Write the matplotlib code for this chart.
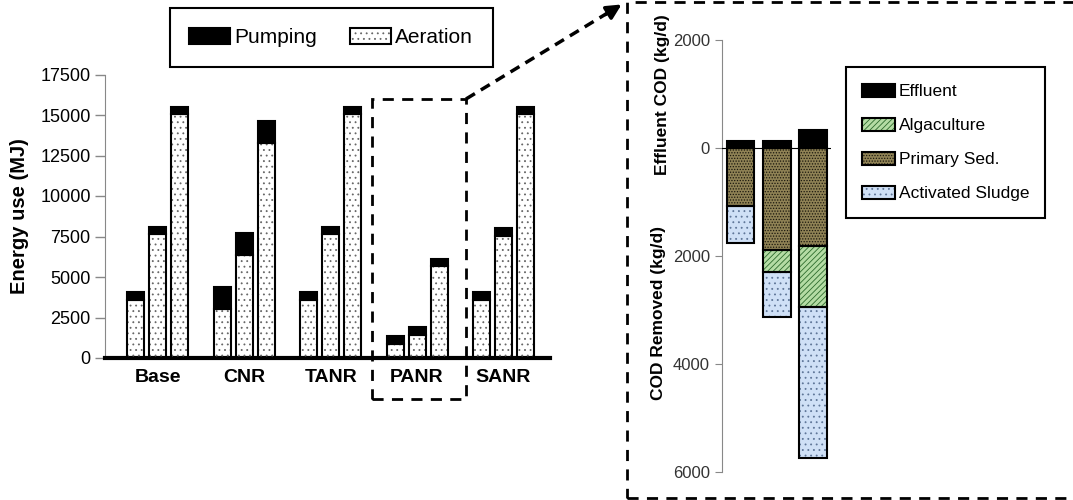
import numpy as np
import matplotlib
matplotlib.use("Agg")
import matplotlib.pyplot as plt
from matplotlib.patches import Rectangle, FancyArrowPatch, Patch
from matplotlib.lines import Line2D

plt.rcParams['font.family'] = ['Liberation Sans', 'DejaVu Sans']
plt.rcParams['hatch.linewidth'] = 0.6

# %% data
groups = ["Base", "CNR", "TANR", "PANR", "SANR"]
aeration = [
    [3600, 3000, 3600, 870, 3600],
    [7650, 6350, 7650, 1450, 7550],
    [15050, 13250, 15050, 5650, 15050],
]
pumping = [
    [450, 1400, 450, 480, 450],
    [450, 1350, 450, 450, 450],
    [450, 1350, 450, 450, 450],
]

effluent = [135, 135, 330]
primary_sed = [1070, 1890, 1820]
algaculture = [0, 400, 1130]
act_sludge = [690, 830, 2790]

# %% styles
styles = {
    "Pumping": dict(fc="black", hatch=None, hc="black"),
    "Aeration": dict(fc="white", hatch="...", hc="#666666"),
    "Effluent": dict(fc="black", hatch=None, hc="black"),
    "Algaculture": dict(fc="#b4dca4", hatch="//////", hc="#2d6b2d"),
    "Primary Sed.": dict(fc="#8f8255", hatch="......", hc="#1a170d"),
    "Activated Sludge": dict(fc="#cfe0f6", hatch="...", hc="#5f7698"),
}


def hbar(ax, x, h, bottom, width, name, lw=1.5):
    st = styles[name]
    ax.bar(x, h, width, bottom=bottom, color=st["fc"], linewidth=0, zorder=2)
    if st["hatch"]:
        ax.bar(x, h, width, bottom=bottom, facecolor="none", edgecolor=st["hc"],
               hatch=st["hatch"], linewidth=0, zorder=3)
    ax.bar(x, h, width, bottom=bottom, facecolor="none", edgecolor="black",
           linewidth=lw, zorder=4)


def handle(name):
    st = styles[name]
    parts = [Patch(facecolor=st["fc"], linewidth=0)]
    if st["hatch"]:
        parts.append(Patch(facecolor="none", edgecolor=st["hc"], hatch=st["hatch"], linewidth=0))
    parts.append(Patch(facecolor="none", edgecolor="black", linewidth=1.5))
    return tuple(parts)


fig = plt.figure(figsize=(10.73, 5), dpi=100)

# %% left panel
ax = fig.add_axes([0.0975, 0.284, 0.415, 0.567])
xg = np.arange(len(groups))
offs = [-0.255, 0.0, 0.255]
bw = 0.197
for k in range(3):
    a = np.array(aeration[k])
    p = np.array(pumping[k])
    hbar(ax, xg + offs[k], a, 0, bw, "Aeration")
    hbar(ax, xg + offs[k], p, a, bw, "Pumping")

ax.set_xlim(-0.617, 4.538)
ax.set_ylim(0, 17500)
ax.set_yticks(np.arange(0, 17501, 2500))
ax.set_xticks(xg)
ax.set_xticklabels(groups, fontsize=14, fontweight="bold")
ax.tick_params(axis="x", length=0, pad=8)
ax.tick_params(axis="y", labelsize=13, color="#888888", length=7, width=1, pad=3)
for s in ["top", "right"]:
    ax.spines[s].set_visible(False)
ax.spines["left"].set_color("#888888")
ax.spines["bottom"].set_linewidth(3)
ax.set_ylabel("Energy use (MJ)", fontsize=14.5, fontweight="bold", labelpad=8)

ax.legend([handle("Pumping"), handle("Aeration")], ["Pumping", "Aeration"],
          loc="center", bbox_to_anchor=(0.3087, 0.9244), bbox_transform=fig.transFigure,
          ncol=2, fontsize=15, frameon=True, fancybox=False, edgecolor="black",
          framealpha=1, handlelength=1.95, handleheight=0.8, borderpad=0.95,
          columnspacing=1.6, handletextpad=0.2).get_frame().set_linewidth(1.5)

# dashed box round PANR
ip = groups.index("PANR")
ax.add_patch(Rectangle((ip - 0.522, -2530), 1.088, 18490, fill=False, ls=(0, (4, 3)),
                       lw=2, ec="black", clip_on=False, zorder=5))

# %% right panel
ax2 = fig.add_axes([0.6726, 0.0554, 0.1019, 0.8646])
xr = np.arange(3)
rw = 0.77
eff = np.array(effluent)
ps = np.array(primary_sed)
al = np.array(algaculture)
asl = np.array(act_sludge)
hbar(ax2, xr, eff, 0, rw, "Effluent")
hbar(ax2, xr, -ps, 0, rw, "Primary Sed.")
hbar(ax2, xr[al > 0], -al[al > 0], -ps[al > 0], rw, "Algaculture")
hbar(ax2, xr, -asl, -(ps + al), rw, "Activated Sludge")
ax2.axhline(0, color="black", lw=0.8, zorder=5)

ax2.set_xlim(-0.52, 2.5)
ax2.set_ylim(-6000, 2000)
yt = [2000, 0, -2000, -4000, -6000]
ax2.set_yticks(yt)
ax2.set_yticklabels([str(abs(v)) for v in yt], fontsize=12, color="#333333")
ax2.tick_params(axis="y", color="#888888", length=5)
ax2.set_xticks([])
for s in ["top", "right", "bottom"]:
    ax2.spines[s].set_visible(False)
ax2.spines["left"].set_color("#888888")

fig.text(0.617, 0.81, "Effluent COD (kg/d)", rotation=90, ha="center", va="center",
         fontsize=12.5, fontweight="bold")
fig.text(0.614, 0.375, "COD Removed (kg/d)", rotation=90, ha="center", va="center",
         fontsize=12.5, fontweight="bold")

names = ["Effluent", "Algaculture", "Primary Sed.", "Activated Sludge"]
ax2.legend([handle(n) for n in names], names, loc="center",
           bbox_to_anchor=(0.8812, 0.715), bbox_transform=fig.transFigure,
           fontsize=12.5, frameon=True, fancybox=False, edgecolor="black", framealpha=1,
           handlelength=1.9, handleheight=0.8, labelspacing=1.05, borderpad=0.95,
           handletextpad=0.2).get_frame().set_linewidth(1.5)

# %% dashed box and arrow linking panels
fig.add_artist(Rectangle((0.584, 0.004), 0.6, 0.9926, transform=fig.transFigure,
                         fill=False, ls=(0, (4, 3)), lw=2, ec="black"))
fig.add_artist(Line2D([0.4343, 0.567], [0.802, 0.975], transform=fig.transFigure,
                      color="black", lw=2.5, ls=(0, (3, 2))))
fig.add_artist(FancyArrowPatch((0.562, 0.968), (0.5815, 0.994), transform=fig.transFigure,
                               arrowstyle="-|>", mutation_scale=22, color="black", lw=2.5))

fig.savefig("out.png", dpi=100)
